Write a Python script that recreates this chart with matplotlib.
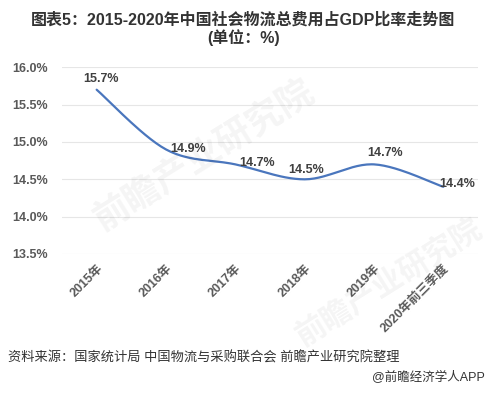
import matplotlib.pyplot as plt
import numpy as np

plt.rcParams['font.family'] = ['Liberation Sans', 'Noto Sans CJK SC', 'DejaVu Sans']

categories = ["2015年", "2016年", "2017年", "2018年", "2019年", "2020年前三季度"]
ratio = [15.7, 14.9, 14.7, 14.5, 14.7, 14.4]
valueLabels = ["15.7%", "14.9%", "14.7%", "14.5%", "14.7%", "14.4%"]
yTicks = [13.5, 14.0, 14.5, 15.0, 15.5, 16.0]
yTickLabels = ["13.5%", "14.0%", "14.5%", "15.0%", "15.5%", "16.0%"]

TITLE = "图表5：2015-2020年中国社会物流总费用占GDP比率走势图"
SUBTITLE = "(单位：%)"
SOURCE = "资料来源：国家统计局 中国物流与采购联合会 前瞻产业研究院整理"
CREDIT = "@前瞻经济学人APP"

# label offsets in points (dx, dy), picked by eye
labelOffsets = [(3, 8), (16, 0), (16, 1), (1, 7), (8, 8), (10, 2)]

def smoothCurve(xs, ys, steps=30):
    # catmull-rom style bezier, like the spreadsheet "smoothed line"
    pts = np.column_stack([xs, ys]).astype(float)
    padded = np.vstack([pts[0], pts, pts[-1]])
    out = []
    for i in range(len(pts) - 1):
        p0, p1, p2, p3 = padded[i], padded[i + 1], padded[i + 2], padded[i + 3]
        c1 = p1 + (p2 - p0) / 6.0
        c2 = p2 - (p3 - p1) / 6.0
        t = np.linspace(0, 1, steps)[:, None]
        seg = ((1 - t) ** 3) * p1 + 3 * ((1 - t) ** 2) * t * c1 + 3 * (1 - t) * t ** 2 * c2 + t ** 3 * p2
        out.append(seg if i == 0 else seg[1:])
    seg = np.vstack(out)
    return seg[:, 0], seg[:, 1]

fig = plt.figure(figsize=(4.87, 3.93), dpi=100)
ax = fig.add_axes([62 / 487, 1 - 254 / 393, 416 / 487, 186.7 / 393])

xPos = np.arange(len(categories))
sx, sy = smoothCurve(xPos, ratio)
ax.plot(sx, sy, color="#4a76bd", linewidth=1.6, solid_capstyle="round", zorder=3)

for i, (v, lab) in enumerate(zip(ratio, valueLabels)):
    ax.annotate(lab, (xPos[i], v), xytext=labelOffsets[i], textcoords="offset points",
                ha="center", va="center", fontsize=9, fontweight="bold", color="#404040", zorder=4)

ax.set_xlim(-0.5, len(categories) - 0.5)
ax.set_ylim(yTicks[0], yTicks[-1])
ax.set_yticks(yTicks)
ax.set_yticklabels(yTickLabels, fontsize=9, fontweight="bold", color="#595959")
ax.set_xticks(xPos)
ax.set_xticklabels(categories, rotation=45, ha="right", va="top", rotation_mode="anchor",
                   fontsize=9, fontweight="bold", color="#595959")
ax.tick_params(axis="both", length=0)
ax.tick_params(axis="y", pad=10)
ax.tick_params(axis="x", pad=6)
ax.grid(axis="y", color="#e6e6e6", linewidth=0.8)
ax.set_axisbelow(True)
for s in ax.spines.values():
    s.set_visible(False)

# faint watermarks
fig.text(0.42, 0.60, "前瞻产业研究院", fontsize=26, fontweight="bold", color="#000000", alpha=0.045,
         rotation=32, ha="center", va="center")
fig.text(0.80, 0.28, "前瞻产业研究院", fontsize=22, fontweight="bold", color="#000000", alpha=0.045,
         rotation=32, ha="center", va="center")

fig.text(0.5, 1 - 20 / 393, TITLE, ha="center", va="center", fontsize=11.5, fontweight="bold", color="#333333")
fig.text(0.5, 1 - 37.5 / 393, SUBTITLE, ha="center", va="center", fontsize=11.5, fontweight="bold", color="#333333")
fig.text(8 / 487, 1 - 358 / 393, SOURCE, ha="left", va="center", fontsize=9.5, color="#333333")
fig.text(485 / 487, 1 - 377 / 393, CREDIT, ha="right", va="center", fontsize=9, color="#333333")

fig.savefig("out.png", dpi=100)
